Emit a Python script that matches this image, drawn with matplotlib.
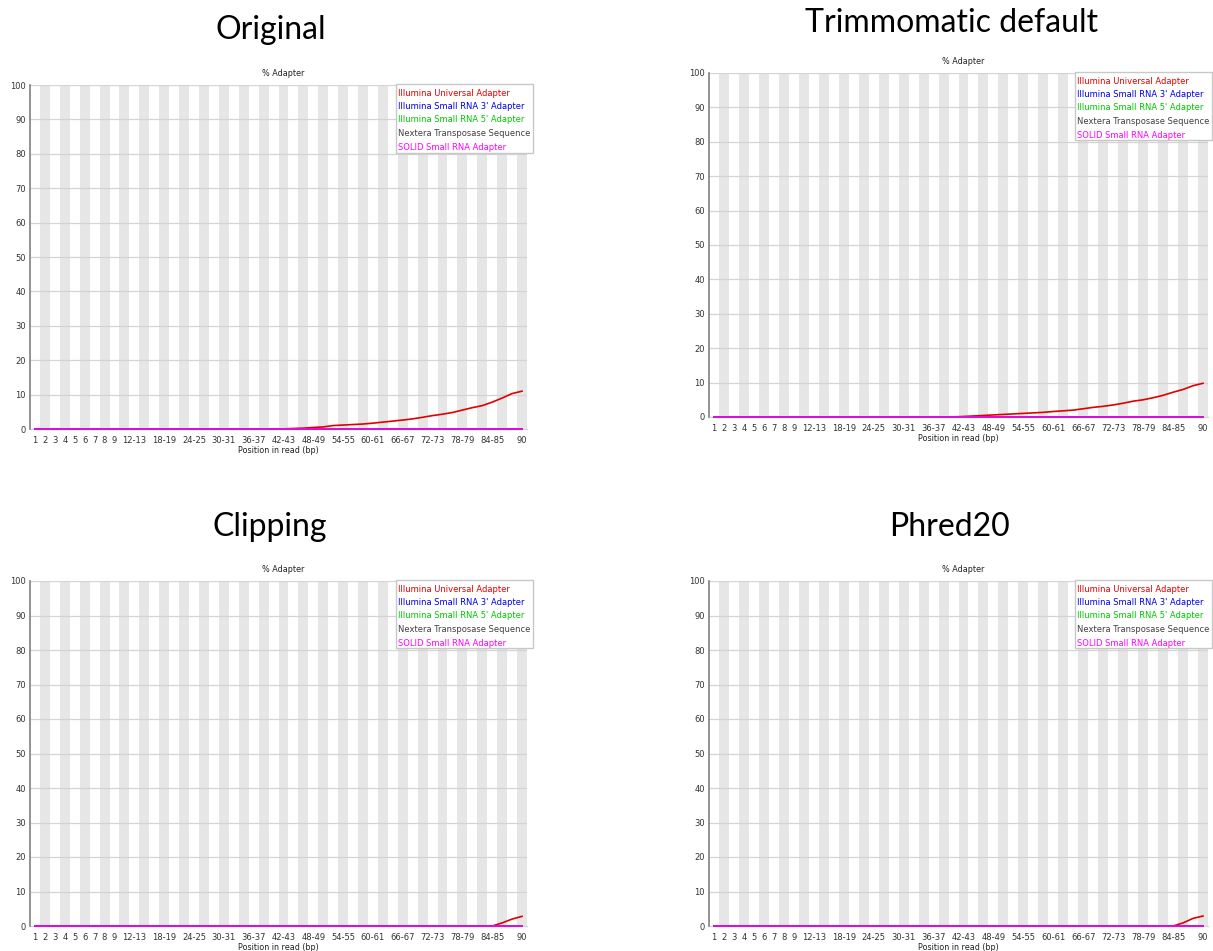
import numpy as np
import matplotlib
matplotlib.use('Agg')
import matplotlib.pyplot as plt
from matplotlib.patches import Rectangle

# categories / labels #
positions = [str(i) for i in range(1, 10)] + ['%d-%d' % (i, i + 1) for i in range(10, 89, 2)] + ['90']
shown_ticks = list(range(0, 9)) + list(range(10, 47, 3)) + [49]

series_names = ['Illumina Universal Adapter', 'Illumina Small RNA 3\' Adapter',
                'Illumina Small RNA 5\' Adapter', 'Nextera Transposase Sequence',
                'SOLID Small RNA Adapter']
series_colors = ['#e00000', '#0000e8', '#00c800', '#404040', '#ff00ff']

panel_titles = ['Original', 'Trimmomatic default', 'Clipping', 'Phred20']

# % Illumina universal adapter per position, one list per panel #
universal_original = [0.0] * 25 + [
    0.05, 0.15, 0.25, 0.45, 0.6, 1.0, 1.15, 1.3, 1.45, 1.7,
    2.0, 2.3, 2.6, 2.95, 3.4, 3.9, 4.3, 4.8, 5.5, 6.2,
    6.8, 7.8, 9.0, 10.3, 11.0]
universal_trimmomatic = [0.0] * 23 + [
    0.02, 0.05, 0.15, 0.3, 0.45, 0.6, 0.75, 0.9, 1.05, 1.2,
    1.35, 1.6, 1.8, 2.0, 2.4, 2.8, 3.1, 3.5, 4.0, 4.6,
    5.0, 5.6, 6.3, 7.2, 8.0, 9.1, 9.8]
universal_clipping = [0.0] * 47 + [0.9, 2.0, 2.8]
universal_phred20 = [0.0] * 47 + [0.9, 2.2, 2.9]
other_adapters = [0.0] * 50

W, H = 1213, 951

def fx(x): return x / W
def fy(y): return 1 - y / H

def draw_panel(fig, box, title_xy, legend_box, universal, title):
    left, top, right, bottom = box
    ax = fig.add_axes([fx(left), fy(bottom), (right - left) / W, (bottom - top) / H])
    n = len(positions)
    x = np.arange(n)
    # alternating stripes #
    for i in range(1, n, 2):
        ax.axvspan(i - 0.5, i + 0.5, color='#e6e6e6', lw=0, zorder=0)
    for yv in range(10, 101, 10):
        ax.axhline(yv, color='#d4d4d4', lw=0.9, zorder=1)
    ax.axhline(0, color='#d4d4d4', lw=0.9, zorder=1, clip_on=False)
    all_series = [universal] + [other_adapters] * 4
    for vals, c in zip(all_series, series_colors):
        ax.plot(x, vals, color=c, lw=1.2, zorder=3, clip_on=False)
    ax.set_xlim(-0.5, n - 0.5)
    ax.set_ylim(0, 100)
    ax.set_yticks(range(0, 101, 10))
    ax.set_xticks(shown_ticks)
    ax.set_xticklabels([positions[i] for i in shown_ticks])
    ax.tick_params(length=0, labelsize=6.0, colors='#333333', pad=3)
    ax.tick_params(axis='x', pad=5)
    for s in ['top', 'right', 'bottom']:
        ax.spines[s].set_visible(False)
    ax.spines['left'].set_color('#808080')
    ax.spines['left'].set_linewidth(1.2)
    ax.set_xlabel('Position in read (bp)', fontsize=5.8, color='#222222', labelpad=1)
    cx = (left + right) / 2
    fig.text(fx(cx + 5), fy(top - 11), '% Adapter', fontsize=5.8, color='#222222',
             ha='center', va='center')
    fig.text(fx(title_xy[0]), fy(title_xy[1]), title, fontsize=23, family='Lato',
             ha='center', va='center')
    # legend box #
    lx0, ly0, lx1, ly1 = legend_box
    fig.add_artist(Rectangle((fx(lx0), fy(ly1)), (lx1 - lx0) / W, (ly1 - ly0) / H,
                             transform=fig.transFigure, facecolor='white',
                             edgecolor='#c8c8c8', lw=1.0, zorder=5))
    for k, (name, c) in enumerate(zip(series_names, series_colors)):
        fig.text(fx(lx0 + 2), fy(ly0 + 9 + 13.5 * k), name, fontsize=6.0, color=c,
                 ha='left', va='center', zorder=6)
    return ax

fig = plt.figure(figsize=(W / 100, H / 100), dpi=100)
draw_panel(fig, (30, 85, 527, 429), (271, 30), (396, 84, 533, 153), universal_original, panel_titles[0])
draw_panel(fig, (709, 73, 1208, 417), (952, 23), (1075, 72, 1212, 140), universal_trimmomatic, panel_titles[1])
draw_panel(fig, (30, 581, 527, 926), (270, 527), (396, 580, 533, 648), universal_clipping, panel_titles[2])
draw_panel(fig, (709, 581, 1208, 926), (949, 527), (1075, 580, 1212, 648), universal_phred20, panel_titles[3])

plt.savefig('out.png', dpi=100)
